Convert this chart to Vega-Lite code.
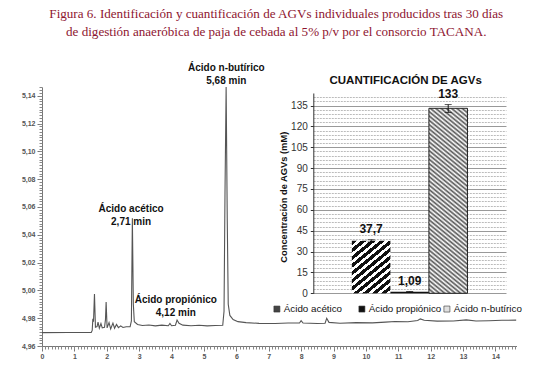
{
  "$schema": "https://vega.github.io/schema/vega-lite/v6.json",
  "width": 474.5,
  "height": 259,
  "autosize": {"type": "none"},
  "padding": {"left": 42, "top": 87, "right": 34.5, "bottom": 31},
  "background": "white",
  "title": {
    "text": ["Figura 6. Identificación y cuantificación de AGVs individuales producidos tras 30 días", "de digestión anaeróbica de paja de cebada al 5% p/v por el consorcio TACANA."],
    "font": "Liberation Serif",
    "fontSize": 13.1,
    "fontWeight": "normal",
    "color": "#8e1530",
    "anchor": "middle",
    "frame": "group",
    "lineHeight": 18,
    "offset": 24,
    "dx": -3
  },
  "config": {
    "view": {"stroke": null},
    "axis": {"grid": false},
    "font": "Liberation Sans"
  },
  "layer": [
    {
      "data": {"values": [
        {"t": 0, "v": 4.9696}, {"t": 0.8, "v": 4.9697}, {"t": 1.52, "v": 4.9697}, {"t": 1.55, "v": 4.9712},
        {"t": 1.57, "v": 4.9795}, {"t": 1.59, "v": 4.9775}, {"t": 1.62, "v": 4.9974}, {"t": 1.65, "v": 4.9735},
        {"t": 1.7, "v": 4.974}, {"t": 1.73, "v": 4.9772}, {"t": 1.77, "v": 4.9728}, {"t": 1.82, "v": 4.9762},
        {"t": 1.86, "v": 4.973}, {"t": 1.93, "v": 4.9735}, {"t": 1.96, "v": 4.979}, {"t": 1.98, "v": 4.9916},
        {"t": 2.01, "v": 4.973}, {"t": 2.07, "v": 4.9768}, {"t": 2.12, "v": 4.9722}, {"t": 2.19, "v": 4.9765},
        {"t": 2.24, "v": 4.9728}, {"t": 2.3, "v": 4.9755}, {"t": 2.36, "v": 4.9732}, {"t": 2.43, "v": 4.9745},
        {"t": 2.5, "v": 4.9733}, {"t": 2.6, "v": 4.9738}, {"t": 2.72, "v": 4.9738}, {"t": 2.76, "v": 4.978},
        {"t": 2.79, "v": 5.0519}, {"t": 2.82, "v": 4.99}, {"t": 2.85, "v": 4.9775}, {"t": 2.95, "v": 4.9755},
        {"t": 3.1, "v": 4.9748}, {"t": 3.3, "v": 4.9751}, {"t": 3.5, "v": 4.9745}, {"t": 3.7, "v": 4.975},
        {"t": 3.9, "v": 4.9746}, {"t": 3.95, "v": 4.9762}, {"t": 4.0, "v": 4.9746}, {"t": 4.12, "v": 4.9749},
        {"t": 4.17, "v": 4.9787}, {"t": 4.23, "v": 4.9763}, {"t": 4.35, "v": 4.975}, {"t": 4.6, "v": 4.9746},
        {"t": 4.85, "v": 4.9749}, {"t": 5.1, "v": 4.9745}, {"t": 5.35, "v": 4.9748}, {"t": 5.58, "v": 4.9749},
        {"t": 5.62, "v": 4.985}, {"t": 5.65, "v": 5.07}, {"t": 5.685, "v": 5.1463}, {"t": 5.72, "v": 5.05},
        {"t": 5.75, "v": 4.99}, {"t": 5.8, "v": 4.982}, {"t": 5.9, "v": 4.979}, {"t": 6.05, "v": 4.9775},
        {"t": 6.3, "v": 4.9768}, {"t": 6.7, "v": 4.9763}, {"t": 7.2, "v": 4.9762}, {"t": 7.6, "v": 4.9765},
        {"t": 7.95, "v": 4.9765}, {"t": 8.0, "v": 4.9782}, {"t": 8.06, "v": 4.9765}, {"t": 8.5, "v": 4.9762},
        {"t": 8.74, "v": 4.9764}, {"t": 8.79, "v": 4.9799}, {"t": 8.86, "v": 4.977}, {"t": 9.2, "v": 4.9764},
        {"t": 9.7, "v": 4.9768}, {"t": 10.2, "v": 4.9766}, {"t": 10.6, "v": 4.9772}, {"t": 10.9, "v": 4.9776},
        {"t": 11.3, "v": 4.9774}, {"t": 11.6, "v": 4.9784}, {"t": 11.68, "v": 4.9795}, {"t": 11.8, "v": 4.9785},
        {"t": 12.2, "v": 4.9779}, {"t": 12.7, "v": 4.978}, {"t": 13.1, "v": 4.9788}, {"t": 13.4, "v": 4.978},
        {"t": 13.8, "v": 4.9782}, {"t": 14.2, "v": 4.9785}, {"t": 14.64, "v": 4.9786}
      ]},
      "layer": [
        {
          "mark": {"type": "line", "color": "#555", "strokeWidth": 1.1},
          "encoding": {
            "x": {"field": "t", "type": "quantitative",
              "scale": {"domain": [0, 14.65], "nice": false, "zero": false},
              "axis": {"orient": "bottom", "values": [0,1,2,3,4,5,6,7,8,9,10,11,12,13,14], "format": "d", "title": null,
                "labelFontSize": 7, "labelFontWeight": "bold", "labelColor": "#555", "tickColor": "#777", "domainColor": "#777",
                "tickSize": 5, "labelPadding": 1, "labelFlush": false, "labelOverlap": false}},
            "y": {"field": "v", "type": "quantitative",
              "scale": {"domain": [4.96, 5.1463], "nice": false, "zero": false},
              "axis": {"orient": "left", "values": [4.96,4.98,5.0,5.02,5.04,5.06,5.08,5.1,5.12,5.14],
                "labelExpr": "replace(format(datum.value, '.2f'), '.', ',')", "title": null,
                "labelFontSize": 7, "labelFontWeight": "bold", "labelColor": "#555", "tickColor": "#777", "domainColor": "#777",
                "tickSize": 5, "labelPadding": 2, "labelOverlap": false}}
          }
        },
        {
          "mark": {"type": "line", "opacity": 0},
          "encoding": {
            "x": {"field": "t", "type": "quantitative",
              "axis": {"orient": "bottom", "tickCount": 146, "labels": false, "domain": false, "title": null, "tickSize": 3, "tickColor": "#888"}},
            "y": {"field": "v", "type": "quantitative",
              "axis": {"orient": "left", "tickCount": 93, "labels": false, "domain": false, "title": null, "tickSize": 3, "tickColor": "#888"}}
          }
        },
        {
          "data": {"values": [
            {"t": 5.69, "v": 5.1598, "label": "Ácido n-butírico\n5,68 min"},
            {"t": 2.75, "v": 5.0585, "label": "Ácido acético\n2,71 min"},
            {"t": 4.13, "v": 4.9931, "label": "Ácido propiónico\n4,12 min"}
          ]},
          "mark": {"type": "text", "font": "Liberation Sans", "fontWeight": "bold", "fontSize": 10,
            "lineBreak": "\n", "lineHeight": 13, "align": "center", "baseline": "middle", "color": "#111"},
          "encoding": {
            "x": {"field": "t", "type": "quantitative", "axis": null},
            "y": {"field": "v", "type": "quantitative", "axis": null},
            "text": {"field": "label"}
          }
        }
      ],
      "resolve": {"axis": {"x": "independent", "y": "independent"}}
    },
    {
      "data": {"values": [
        {"cat": "Ácido acético", "value": 37.7, "low": 36.9, "high": 38.5, "label": "37,7"},
        {"cat": "Ácido propiónico", "value": 1.09, "low": 0.95, "high": 1.23, "label": "1,09"},
        {"cat": "Ácido n-butírico", "value": 133, "low": 130, "high": 135.7, "label": "133"}
      ]},
      "layer": [
        {
          "transform": [{"filter": "datum.cat === 'Ácido acético'"}],
          "mark": {"type": "bar", "color": {"gradient": "linear", "x1": 0, "y1": 0, "x2": 0.708, "y2": 1.176, "stops": [
            {"offset": 0, "color": "#111"}, {"offset": 0.05, "color": "#111"}, {"offset": 0.05, "color": "#fff"}, {"offset": 0.0909, "color": "#fff"},
            {"offset": 0.0909, "color": "#111"}, {"offset": 0.1409, "color": "#111"}, {"offset": 0.1409, "color": "#fff"}, {"offset": 0.1818, "color": "#fff"},
            {"offset": 0.1818, "color": "#111"}, {"offset": 0.2318, "color": "#111"}, {"offset": 0.2318, "color": "#fff"}, {"offset": 0.2727, "color": "#fff"},
            {"offset": 0.2727, "color": "#111"}, {"offset": 0.3227, "color": "#111"}, {"offset": 0.3227, "color": "#fff"}, {"offset": 0.3636, "color": "#fff"},
            {"offset": 0.3636, "color": "#111"}, {"offset": 0.4136, "color": "#111"}, {"offset": 0.4136, "color": "#fff"}, {"offset": 0.4545, "color": "#fff"},
            {"offset": 0.4545, "color": "#111"}, {"offset": 0.5045, "color": "#111"}, {"offset": 0.5045, "color": "#fff"}, {"offset": 0.5455, "color": "#fff"},
            {"offset": 0.5455, "color": "#111"}, {"offset": 0.5955, "color": "#111"}, {"offset": 0.5955, "color": "#fff"}, {"offset": 0.6364, "color": "#fff"},
            {"offset": 0.6364, "color": "#111"}, {"offset": 0.6864, "color": "#111"}, {"offset": 0.6864, "color": "#fff"}, {"offset": 0.7273, "color": "#fff"},
            {"offset": 0.7273, "color": "#111"}, {"offset": 0.7773, "color": "#111"}, {"offset": 0.7773, "color": "#fff"}, {"offset": 0.8182, "color": "#fff"},
            {"offset": 0.8182, "color": "#111"}, {"offset": 0.8682, "color": "#111"}, {"offset": 0.8682, "color": "#fff"}, {"offset": 0.9091, "color": "#fff"},
            {"offset": 0.9091, "color": "#111"}, {"offset": 0.9591, "color": "#111"}, {"offset": 0.9591, "color": "#fff"}, {"offset": 1, "color": "#fff"}
          ]}},
          "encoding": {
            "x": {"field": "cat", "type": "nominal",
              "scale": {"domain": ["Ácido acético", "Ácido propiónico", "Ácido n-butírico"], "range": [271.3, 464], "paddingInner": 0, "paddingOuter": 1.52},
              "axis": null},
            "y": {"field": "value", "type": "quantitative",
              "scale": {"domain": [0, 144], "range": [206.3, 6], "nice": false},
              "axis": {"orient": "left", "offset": -271.3, "values": [0,15,30,45,60,75,90,105,120,135], "grid": true, "gridColor": "#999", "gridWidth": 1,
                "domainColor": "#333", "tickColor": "#333", "tickSize": 3, "labelPadding": 3, "labelFontSize": 10, "labelColor": "#333",
                "title": "Concentración de AGVs (mM)", "titleFont": "Liberation Sans", "titleFontSize": 9.3, "titleFontWeight": "bold", "titleColor": "#111",
                "titleX": -30, "titleY": 109.7, "titleAngle": 270, "titleBaseline": "middle", "titleAlign": "center"}}
          }
        },
        {
          "transform": [{"filter": "datum.cat === 'Ácido propiónico'"}],
          "mark": {"type": "bar", "color": "#111"},
          "encoding": {
            "x": {"field": "cat", "type": "nominal", "axis": null},
            "y": {"field": "value", "type": "quantitative", "axis": null}
          }
        },
        {
          "transform": [{"filter": "datum.cat === 'Ácido n-butírico'"}],
          "mark": {"type": "bar", "stroke": "#222", "strokeWidth": 1, "color": {"gradient": "linear", "x1": 0, "y1": 1, "x2": 0.194, "y2": -0.137, "stops": [
            {"offset": 0, "color": "#555"}, {"offset": 0.01, "color": "#fff"}, {"offset": 0.02, "color": "#555"}, {"offset": 0.03, "color": "#fff"},
            {"offset": 0.04, "color": "#555"}, {"offset": 0.05, "color": "#fff"}, {"offset": 0.06, "color": "#555"}, {"offset": 0.07, "color": "#fff"},
            {"offset": 0.08, "color": "#555"}, {"offset": 0.09, "color": "#fff"}, {"offset": 0.1, "color": "#555"}, {"offset": 0.11, "color": "#fff"},
            {"offset": 0.12, "color": "#555"}, {"offset": 0.13, "color": "#fff"}, {"offset": 0.14, "color": "#555"}, {"offset": 0.15, "color": "#fff"},
            {"offset": 0.16, "color": "#555"}, {"offset": 0.17, "color": "#fff"}, {"offset": 0.18, "color": "#555"}, {"offset": 0.19, "color": "#fff"},
            {"offset": 0.2, "color": "#555"}, {"offset": 0.21, "color": "#fff"}, {"offset": 0.22, "color": "#555"}, {"offset": 0.23, "color": "#fff"},
            {"offset": 0.24, "color": "#555"}, {"offset": 0.25, "color": "#fff"}, {"offset": 0.26, "color": "#555"}, {"offset": 0.27, "color": "#fff"},
            {"offset": 0.28, "color": "#555"}, {"offset": 0.29, "color": "#fff"}, {"offset": 0.3, "color": "#555"}, {"offset": 0.31, "color": "#fff"},
            {"offset": 0.32, "color": "#555"}, {"offset": 0.33, "color": "#fff"}, {"offset": 0.34, "color": "#555"}, {"offset": 0.35, "color": "#fff"},
            {"offset": 0.36, "color": "#555"}, {"offset": 0.37, "color": "#fff"}, {"offset": 0.38, "color": "#555"}, {"offset": 0.39, "color": "#fff"},
            {"offset": 0.4, "color": "#555"}, {"offset": 0.41, "color": "#fff"}, {"offset": 0.42, "color": "#555"}, {"offset": 0.43, "color": "#fff"},
            {"offset": 0.44, "color": "#555"}, {"offset": 0.45, "color": "#fff"}, {"offset": 0.46, "color": "#555"}, {"offset": 0.47, "color": "#fff"},
            {"offset": 0.48, "color": "#555"}, {"offset": 0.49, "color": "#fff"}, {"offset": 0.5, "color": "#555"}, {"offset": 0.51, "color": "#fff"},
            {"offset": 0.52, "color": "#555"}, {"offset": 0.53, "color": "#fff"}, {"offset": 0.54, "color": "#555"}, {"offset": 0.55, "color": "#fff"},
            {"offset": 0.56, "color": "#555"}, {"offset": 0.57, "color": "#fff"}, {"offset": 0.58, "color": "#555"}, {"offset": 0.59, "color": "#fff"},
            {"offset": 0.6, "color": "#555"}, {"offset": 0.61, "color": "#fff"}, {"offset": 0.62, "color": "#555"}, {"offset": 0.63, "color": "#fff"},
            {"offset": 0.64, "color": "#555"}, {"offset": 0.65, "color": "#fff"}, {"offset": 0.66, "color": "#555"}, {"offset": 0.67, "color": "#fff"},
            {"offset": 0.68, "color": "#555"}, {"offset": 0.69, "color": "#fff"}, {"offset": 0.7, "color": "#555"}, {"offset": 0.71, "color": "#fff"},
            {"offset": 0.72, "color": "#555"}, {"offset": 0.73, "color": "#fff"}, {"offset": 0.74, "color": "#555"}, {"offset": 0.75, "color": "#fff"},
            {"offset": 0.76, "color": "#555"}, {"offset": 0.77, "color": "#fff"}, {"offset": 0.78, "color": "#555"}, {"offset": 0.79, "color": "#fff"},
            {"offset": 0.8, "color": "#555"}, {"offset": 0.81, "color": "#fff"}, {"offset": 0.82, "color": "#555"}, {"offset": 0.83, "color": "#fff"},
            {"offset": 0.84, "color": "#555"}, {"offset": 0.85, "color": "#fff"}, {"offset": 0.86, "color": "#555"}, {"offset": 0.87, "color": "#fff"},
            {"offset": 0.88, "color": "#555"}, {"offset": 0.89, "color": "#fff"}, {"offset": 0.9, "color": "#555"}, {"offset": 0.91, "color": "#fff"},
            {"offset": 0.92, "color": "#555"}, {"offset": 0.93, "color": "#fff"}, {"offset": 0.94, "color": "#555"}, {"offset": 0.95, "color": "#fff"},
            {"offset": 0.96, "color": "#555"}, {"offset": 0.97, "color": "#fff"}, {"offset": 0.98, "color": "#555"}, {"offset": 0.99, "color": "#fff"},
            {"offset": 1, "color": "#555"}
          ]}},
          "encoding": {
            "x": {"field": "cat", "type": "nominal", "axis": null},
            "y": {"field": "value", "type": "quantitative", "axis": null}
          }
        },
        {
          "mark": {"type": "errorbar", "ticks": {"size": 7}, "color": "#111"},
          "encoding": {
            "x": {"field": "cat", "type": "nominal", "axis": null},
            "y": {"field": "low", "type": "quantitative", "axis": null},
            "y2": {"field": "high"}
          }
        },
        {
          "mark": {"type": "text", "fontWeight": "bold", "fontSize": 12, "dy": -7, "baseline": "alphabetic", "align": "center", "color": "#111"},
          "encoding": {
            "x": {"field": "cat", "type": "nominal", "axis": null},
            "y": {"field": "high", "type": "quantitative", "axis": null},
            "text": {"field": "label"}
          }
        },
        {
          "data": {"values": [{"heading": "CUANTIFICACIÓN DE AGVs", "cat": "Ácido propiónico", "pos": 152.5}]},
          "mark": {"type": "text", "fontWeight": "bold", "fontSize": 11.5, "baseline": "middle", "align": "center", "color": "#111", "dx": -4},
          "encoding": {
            "x": {"field": "cat", "type": "nominal", "axis": null},
            "y": {"field": "pos", "type": "quantitative", "axis": null},
            "text": {"field": "heading"}
          }
        },
        {
          "mark": {"type": "bar", "opacity": 0},
          "encoding": {
            "x": {"field": "cat", "type": "nominal", "axis": null},
            "y": {"field": "value", "type": "quantitative",
              "axis": {"orient": "left", "offset": -271.3, "values": [3,6,9,12,18,21,24,27,33,36,39,42,48,51,54,57,63,66,69,72,78,81,84,87,93,96,99,102,108,111,114,117,123,126,129,132,138,141],
                "grid": true, "gridColor": "#aaa", "gridDash": [2, 1], "gridWidth": 0.8, "labels": false, "ticks": false, "domain": false, "title": null}},
            "color": {"field": "cat", "type": "nominal",
              "scale": {"domain": ["Ácido acético", "Ácido propiónico", "Ácido n-butírico"], "range": ["#444", "#111", "#e0e0e0"]},
              "legend": {"orient": "none", "legendX": 230, "legendY": 217, "direction": "horizontal", "title": null, "gridAlign": "all",
                "symbolType": "square", "symbolSize": 36, "symbolOpacity": 1, "symbolStrokeColor": "#333", "symbolStrokeWidth": 0.6,
                "labelFontSize": 9.8, "labelColor": "#111", "labelOffset": 2, "columnPadding": 0}}
          }
        }
      ],
      "resolve": {"axis": {"y": "independent"}}
    }
  ],
  "resolve": {"scale": {"x": "independent", "y": "independent"}, "axis": {"x": "independent", "y": "independent"}}
}
